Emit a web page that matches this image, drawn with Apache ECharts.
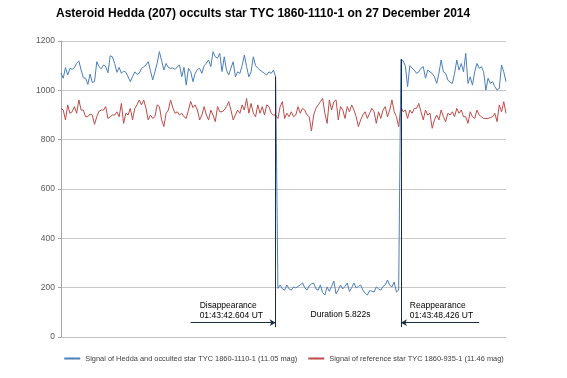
<!DOCTYPE html>
<html><head><meta charset="utf-8">
<script src="https://cdn.jsdelivr.net/npm/echarts@6/dist/echarts.min.js"></script>
<style>html,body{margin:0;padding:0;background:#fff}#c{width:567px;height:378px}</style>
</head><body><div id="c"></div>
<script>
const titleText = 'Asteroid Hedda (207) occults star TYC 1860-1110-1 on 27 December 2014';
const seriesNames = ['Signal of Hedda and occulted star TYC 1860-1110-1 (11.05 mag)', 'Signal of reference star TYC 1860-935-1 (11.46 mag)'];
const yTicks = [0, 200, 400, 600, 800, 1000, 1200];

const heddaSignal = [
1070,1049,1092,1062,1089,1085,1092,1110,1119,1082,
1051,1049,1024,1066,1032,1035,1116,1096,1087,1103,
1096,1071,1140,1136,1109,1073,1093,1069,1078,1073,
1055,1035,1055,1075,1065,1069,1089,1095,1103,1116,
1080,1042,1075,1110,1157,1120,1082,1109,1093,1089,
1091,1085,1095,1103,1055,1093,1021,1089,1076,1035,
1069,1085,1089,1069,1100,1110,1123,1096,1157,1136,
1130,1150,1076,1136,1082,1062,1090,1116,1055,1075,
1069,1100,1143,1096,1055,1075,1136,1100,1090,1082,
1075,1069,1062,1075,1069,1082,1055,197,211,195,
190,211,195,190,203,199,205,211,220,200,
190,207,215,219,195,190,211,180,170,203,
185,205,227,175,190,211,195,205,219,185,
200,219,199,205,211,190,178,170,188,186,
182,203,195,190,205,211,231,210,203,223,
182,190,1126,1120,1098,1015,1100,1090,1082,1069,
1075,1090,1096,1049,1082,1075,1068,1055,1028,1069,
1123,1075,1069,1042,1032,1028,1069,1123,1082,1109,
1075,1150,1028,1055,1021,1075,1109,1089,1096,1075,
1001,1049,1028,1035,1015,1001,1008,1103,1075,1035
];
const referenceSignal = [
927,920,880,941,907,913,934,907,961,920,
920,893,893,904,900,862,893,915,920,920,
934,886,893,900,900,913,893,947,866,907,
900,927,880,927,941,961,941,961,927,880,
900,886,893,941,934,880,853,907,920,961,
930,907,913,900,907,893,886,920,955,930,
941,920,880,900,934,900,880,920,900,873,
934,913,913,920,934,954,920,880,900,920,
907,941,920,967,907,947,907,893,941,907,
934,900,941,934,907,900,900,886,934,954,
886,907,893,913,893,900,934,907,927,920,
900,893,835,900,927,941,954,967,907,866,
961,920,954,961,880,934,920,886,934,913,
941,920,893,853,880,900,913,886,907,927,
913,866,913,886,920,934,893,920,961,913,
893,853,934,913,920,886,920,907,927,927,
947,913,880,920,900,907,846,880,900,880,
920,893,873,907,900,913,893,927,907,920,
893,893,866,913,893,886,920,900,893,886,
886,886,890,893,907,873,941,913,954,907
];
const frames = heddaSignal.map((v, i) => String(i + 1));

// annotation anchors (frame index, signal value)
const disappearIdx = 96, reappearIdx = 152;
const annotTexts = ['Disappearance\n01:43:42.604 UT', 'Duration 5.822s', 'Reappearance\n01:43:48.426 UT'];

const chart = echarts.init(document.getElementById('c'), null, {renderer: 'canvas'});
const lineDark = '#1c2b3e';
chart.setOption({
  animation: false,
  title: {text: titleText, left: 56, top: 8, padding: 0,
    textStyle: {fontFamily: 'Liberation Sans', fontWeight: 'bold', fontSize: 12, color: '#000'}},
  grid: {left: 61, right: 61, top: 41, bottom: 41, containLabel: false},
  legend: {bottom: 11, left: 'center', itemGap: 10, itemWidth: 16, itemHeight: 2,
    textStyle: {fontFamily: 'Liberation Sans', fontSize: 7.4, color: '#404040'},
    data: seriesNames},
  xAxis: {type: 'category', data: frames, boundaryGap: false,
    axisLine: {show: true, lineStyle: {color: '#bfbfbf'}}, axisTick: {show: false}, axisLabel: {show: false}},
  yAxis: {type: 'value', min: yTicks[0], max: yTicks[yTicks.length - 1], interval: 200,
    axisLine: {show: true, lineStyle: {color: '#a6a6a6'}},
    axisTick: {show: true, length: 3, lineStyle: {color: '#a6a6a6'}},
    axisLabel: {fontFamily: 'Liberation Sans', fontSize: 8.5, color: '#595959', margin: 6,
      formatter: v => String(v)},
    splitLine: {lineStyle: {color: '#c8c8c8'}}},
  series: [
    {name: seriesNames[0], type: 'line', data: heddaSignal, showSymbol: false, symbol: 'none',
      lineStyle: {color: '#4a7ebb', width: 1}, itemStyle: {color: '#4a7ebb'}, z: 3,
      markLine: {silent: true, symbol: ['none', 'none'], label: {show: false},
        lineStyle: {color: lineDark, width: 1, type: 'solid'},
        data: [
          [{coord: [disappearIdx, heddaSignal[disappearIdx]]}, {coord: [disappearIdx, 40]}],
          [{coord: [reappearIdx, heddaSignal[reappearIdx]]}, {coord: [reappearIdx, 40]}],
          [{coord: [58, 58], symbol: 'none'}, {coord: [disappearIdx, 58], symbol: 'arrow', symbolSize: [5, 6]}],
          [{coord: [187, 58], symbol: 'none'}, {coord: [reappearIdx, 58], symbol: 'arrow', symbolSize: [5, 6]}]
        ]}},
    {name: seriesNames[1], type: 'line', data: referenceSignal, showSymbol: false, symbol: 'none',
      lineStyle: {color: '#be4b48', width: 1}, itemStyle: {color: '#be4b48'}, z: 2}
  ]
});

function px(idx, val) { return chart.convertToPixel({xAxisIndex: 0, yAxisIndex: 0}, [idx, val]); }
const p1 = px(62, 107), p2 = px(125, 89), p3 = px(156, 107);
const ts = {fontFamily: 'Liberation Sans', fontSize: 8.5, fill: '#000', lineHeight: 10.5, verticalAlign: 'middle'};
chart.setOption({graphic: [
  {type: 'text', x: p1[0], y: p1[1], style: Object.assign({text: annotTexts[0], align: 'left'}, ts)},
  {type: 'text', x: p2[0], y: p2[1], style: Object.assign({text: annotTexts[1], align: 'center'}, ts)},
  {type: 'text', x: p3[0], y: p3[1], style: Object.assign({text: annotTexts[2], align: 'left'}, ts)}
]});
</script></body></html>
